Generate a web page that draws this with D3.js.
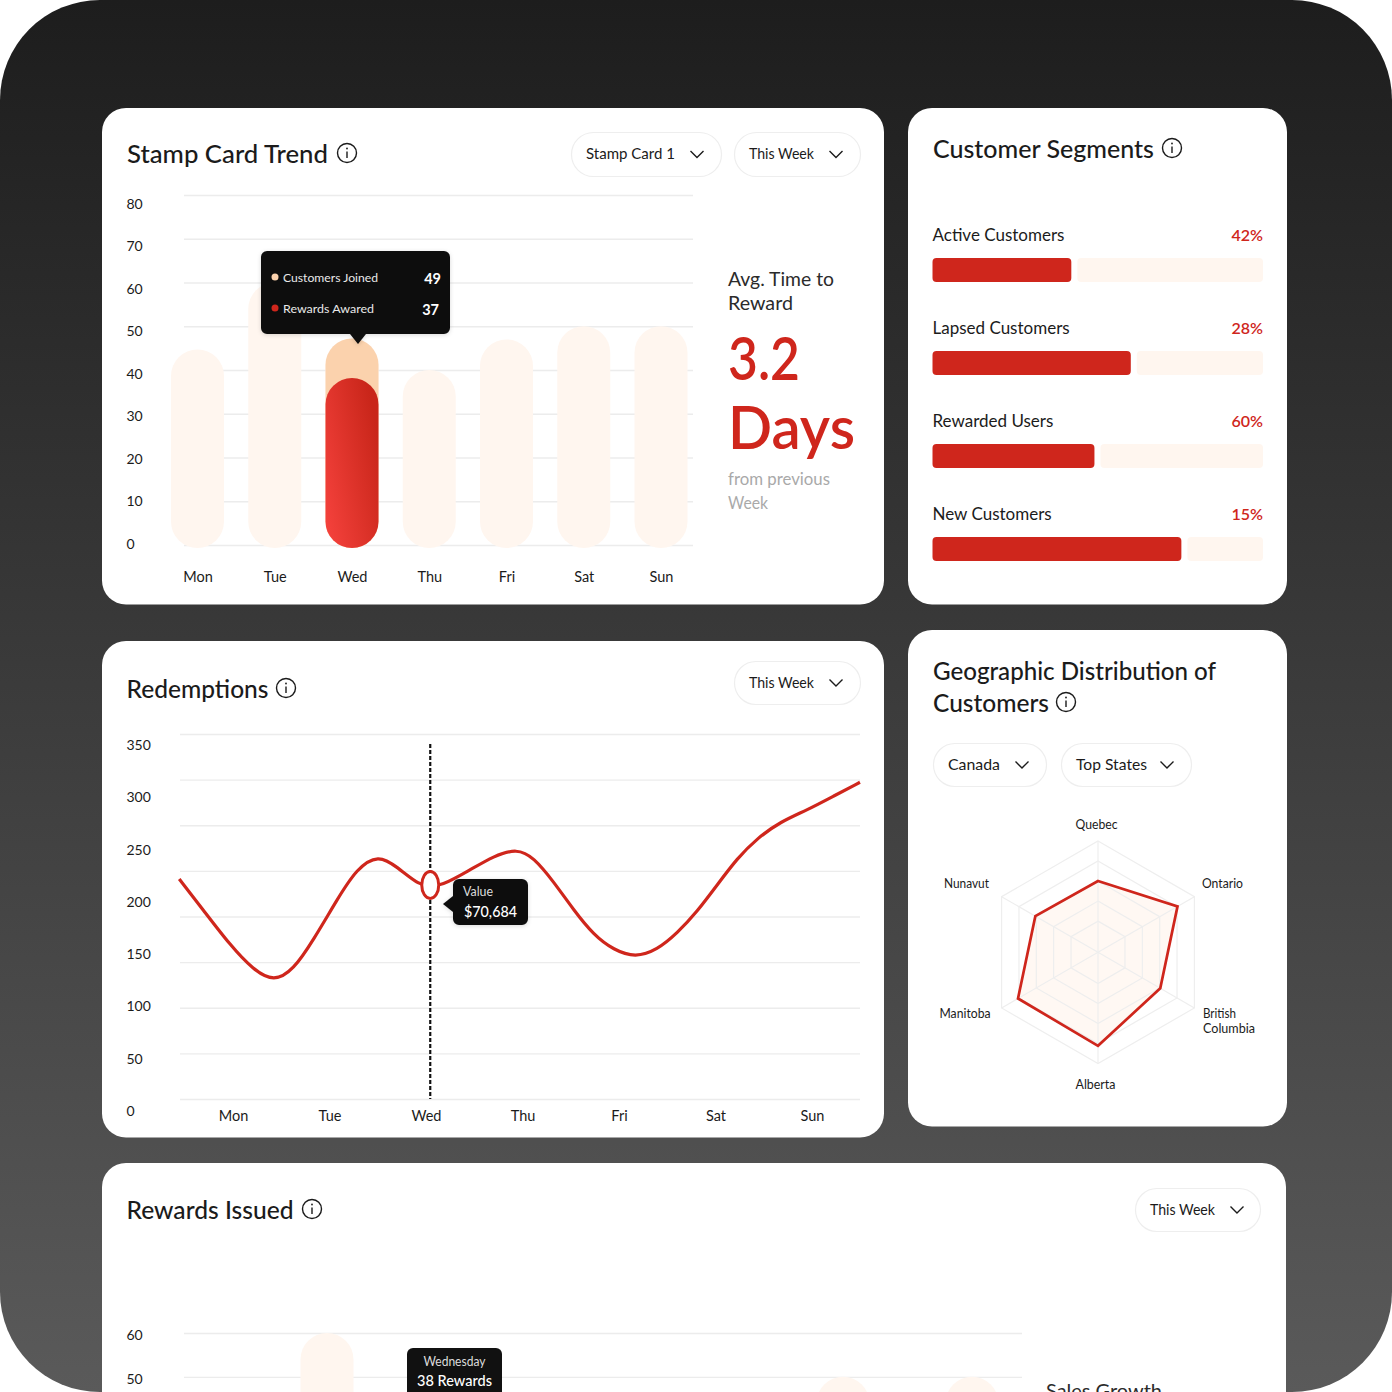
<!DOCTYPE html>
<html><head><meta charset="utf-8">
<script src="https://cdn.jsdelivr.net/npm/d3@7/dist/d3.min.js"></script>
<style>html,body{margin:0;background:#fff}svg{display:block}text{font-family:Lato,"Noto Sans",sans-serif}
.domain{display:none}</style></head><body><svg id="c" width="1392" height="1392"></svg>
<script>
const days=["Mon","Tue","Wed","Thu","Fri","Sat","Sun"];
const stampTicks=[0,10,20,30,40,50,60,70,80];
const customersJoined=[44.7,60,47.2,40,47,50,50];
const rewardsAwarded=[null,null,38.2,null,null,null,null];
const segmentNames=["Active Customers","Lapsed Customers","Rewarded Users","New Customers"];
const segmentLabels=["42%","28%","60%","15%"];
const segmentShares=[42,60,49,75.3];
const redemptionTicks=[0,50,100,150,200,250,300,350];
const redemptionDay=[-0.557,-0.308,-0.031,0.211,0.425,0.626,0.833,1.076,1.283,1.507,1.698,1.94,2.044,2.147,2.458,2.7,2.943,3.115,3.323,3.53,3.738,3.945,4.17,4.395,4.603,4.81,5.017,5.225,5.432,5.674,5.951,6.227,6.497];
const redemptionValue=[241.1,207.1,168.8,141.4,128.5,141.4,174.2,218.1,252.8,268,254.6,233.4,234.5,232.7,251,266.3,274.5,264.9,238.1,207.1,179.7,163.3,155,163.3,181.6,205.3,234.5,263.8,285.7,303.9,316.7,332.1,347.1];
const regions=["Quebec","Ontario","British Columbia","Alberta","Manitoba","Nunavut"];
const regionValues=[64,82.5,64.6,84,83,65];
const radarLevels=[28,46,64,82,100];
const rewardsIssued=[40,60,38,40,45,50,50];

const RED="#cf261c",TRACK="#fff6ef",PEACH="#fbd2ad",INK="#1b1b1b",DARK="#111111",GRID="#ececec";
const svg=d3.select("#c");
const defs=svg.append("defs");
const bgG=defs.append("linearGradient").attr("id","bg").attr("x1",0).attr("y1",0).attr("x2",0).attr("y2",1);
bgG.append("stop").attr("offset",0).attr("stop-color","#1d1d1d");
bgG.append("stop").attr("offset",1).attr("stop-color","#5a5a5a");
const rg=defs.append("linearGradient").attr("id","redBar").attr("x1",0).attr("y1",1).attr("x2",1).attr("y2",0.35);
rg.append("stop").attr("offset",0).attr("stop-color","#f7433e");
rg.append("stop").attr("offset",1).attr("stop-color","#c9261a");
const sh=defs.append("filter").attr("id","sh").attr("x","-20%").attr("y","-20%").attr("width","140%").attr("height","140%");
sh.append("feDropShadow").attr("dx",0).attr("dy",1).attr("stdDeviation",2).attr("flood-opacity",.15);
defs.append("clipPath").attr("id","outer").append("rect").attr("width",1392).attr("height",1392).attr("rx",100);

const root=svg.append("g").attr("clip-path","url(#outer)");
root.append("rect").attr("width",1392).attr("height",1392).attr("fill","url(#bg)");

function card(x,y,w,h){root.append("rect").attr("x",x).attr("y",y).attr("width",w).attr("height",h).attr("rx",24).attr("fill","#fff");}
function txt(x,y,s,size,o={}){const t=root.append("text").attr("x",x).attr("y",y).attr("dominant-baseline","central")
  .attr("font-size",size).attr("fill",o.fill||INK).attr("font-weight",o.weight||400).attr("text-anchor",o.anchor||"start").text(s);
  if(o.w)t.attr("textLength",o.w).attr("lengthAdjust","spacingAndGlyphs");return t;}
function info(cx,cy){const g=root.append("g").attr("transform",`translate(${cx},${cy})`).attr("fill","none").attr("stroke",INK).attr("stroke-width",1.4);
  g.append("circle").attr("r",9.5);
  g.append("path").attr("d","M0,-1.5V5");
  g.append("circle").attr("cy",-4.5).attr("r",.9).attr("fill",INK).attr("stroke","none");}
function pill(x,y,w,h,label,chev,tw){root.append("rect").attr("x",x+.5).attr("y",y+.5).attr("width",w).attr("height",h).attr("rx",h/2).attr("fill","#fff").attr("stroke","#eeeeee").attr("stroke-width",1.2);
  txt(x+15,y+h/2-1,label,15,{w:tw});
  root.append("path").attr("d",`M${chev-6.5},${y+h/2-3}L${chev},${y+h/2+3.5}L${chev+6.5},${y+h/2-3}`).attr("fill","none").attr("stroke",INK).attr("stroke-width",1.4);}
function grid(scale,x0,x1,ticks){const g=root.append("g").attr("transform",`translate(${x0},0)`)
  .call(d3.axisLeft(scale).tickValues(ticks).tickSize(-(x1-x0)).tickFormat(""));
  g.selectAll("line").attr("stroke",GRID).attr("stroke-width",1.4);}
function yLabels(scale,x,ticks,size){const g=root.append("g").attr("transform",`translate(${x},0)`)
  .call(d3.axisLeft(scale).tickValues(ticks).tickSize(0).tickPadding(0).tickFormat(d3.format("d")));
  g.selectAll("text").attr("text-anchor","start").attr("font-size",size).attr("fill",INK).attr("dy",null).attr("dominant-baseline","central");}
function xLabels(scale,y,size){const g=root.append("g").attr("transform",`translate(0,${y})`)
  .call(d3.axisBottom(scale).tickSize(0).tickPadding(0));
  g.selectAll("text").attr("font-size",size).attr("fill",INK).attr("dy",null).attr("dominant-baseline","central");}
function bars(x,y,vals,w,over,fill){root.append("g").selectAll("rect").data(days.map((d,i)=>({d,v:vals[i]})).filter(e=>e.v!=null)).join("rect")
  .attr("x",e=>x(e.d)-w/2).attr("width",w).attr("y",e=>y(e.v)).attr("height",e=>y(0)+over-y(e.v)).attr("rx",w/2).attr("fill",fill);}

// Stamp Card Trend
card(102,108,782,496.5);
txt(127,152.5,"Stamp Card Trend",25.5,{weight:500,w:201}); info(347,153);
pill(571,132,150,44,"Stamp Card 1",697,89);
pill(734,132,126,44,"This Week",836,65);
const sy=d3.scaleLinear().domain([0,80]).range([545,195]);
const syL=d3.scaleLinear().domain([0,80]).range([542.5,203]);
const sx=d3.scalePoint().domain(days).range([197.5,661]);
grid(sy,184,693,stampTicks);
yLabels(syL,126.5,stampTicks,14);
bars(sx,sy,customersJoined,53,3,TRACK);
bars(sx,sy,customersJoined.map((v,i)=>rewardsAwarded[i]!=null?v:null),53,3,PEACH);
bars(sx,sy,rewardsAwarded,53,3,"url(#redBar)");
xLabels(sx,576,14.5);
root.append("path").attr("d","M261,257a6,6 0 0 1 6,-6H444a6,6 0 0 1 6,6V328a6,6 0 0 1 -6,6H366L358,344L350,334H267a6,6 0 0 1 -6,-6Z").attr("fill",DARK).attr("filter","url(#sh)");
root.append("circle").attr("cx",275).attr("cy",277).attr("r",3.5).attr("fill",PEACH);
root.append("circle").attr("cx",275).attr("cy",308).attr("r",3.5).attr("fill",RED);
txt(283,277,"Customers Joined",12.3,{fill:"#e9e9e9",w:95});
txt(283,308,"Rewards Awared",12.3,{fill:"#e9e9e9",w:91});
txt(441,278,"49",14.5,{fill:"#fff",anchor:"end",weight:700});
txt(439,309,"37",14.5,{fill:"#fff",anchor:"end",weight:700});
txt(728,278,"Avg. Time to",20,{fill:"#2b2b2b",w:106});
txt(728,301.5,"Reward",20,{fill:"#2b2b2b",w:65});
txt(728,357,"3.2",60,{fill:RED,weight:600,w:72});
txt(728,426,"Days",60,{fill:RED,weight:600,w:127});
txt(728,478,"from previous",18,{fill:"#a9a9a9",w:102});
txt(728,502,"Week",18,{fill:"#a9a9a9",w:40});

// Customer Segments
card(908,108,379,496.5);
txt(933,147.5,"Customer Segments",25.5,{weight:500,w:221}); info(1172,148);
const segX=d3.scaleLinear().domain([0,100]).range([932.5,1263]);
const segY=d3.scalePoint().domain(segmentNames).range([258,537]);
segmentNames.forEach((n,i)=>{const y=segY(n);
  txt(932.5,y-23.5,n,17);
  txt(1263,y-23.5,segmentLabels[i],16,{fill:RED,anchor:"end",weight:600});
  root.append("rect").attr("x",segX(segmentShares[i])+6).attr("y",y).attr("width",segX(100)-segX(segmentShares[i])-6).attr("height",24).attr("rx",4).attr("fill",TRACK);
  root.append("rect").attr("x",segX(0)).attr("y",y).attr("width",segX(segmentShares[i])-segX(0)).attr("height",24).attr("rx",4).attr("fill",RED);
});

// Redemptions
card(102,641,782,496.5);
txt(126.5,687.5,"Redemptions",25.5,{weight:500,w:142}); info(286,688);
pill(734,661,126,43,"This Week",836,65);
const ry=d3.scaleLinear().domain([0,400]).range([1099,734]);
const ryL=d3.scaleLinear().domain([0,350]).range([1110,744]);
const rxL=d3.scalePoint().domain(days).range([233,812]);
const rx=d3.scaleLinear().domain([0,6]).range([233,812]);
grid(ry,180,860,d3.range(0,401,50));
yLabels(ryL,126.5,redemptionTicks,14);
xLabels(rxL,1115,14.5);
const WED=2.044;
root.append("line").attr("x1",rx(WED)).attr("x2",rx(WED)).attr("y1",744).attr("y2",ry(0)).attr("stroke","#111").attr("stroke-width",2.2).attr("stroke-dasharray","4 2");
root.append("path").datum(redemptionDay.map((d,i)=>[d,redemptionValue[i]]))
  .attr("d",d3.line().x(d=>rx(d[0])).y(d=>ry(d[1])).curve(d3.curveBasis))
  .attr("fill","none").attr("stroke",RED).attr("stroke-width",3.2);
root.append("ellipse").attr("cx",rx(WED)).attr("cy",ry(234.5)).attr("rx",8.5).attr("ry",13.5).attr("fill","#fff").attr("stroke",RED).attr("stroke-width",3);
root.append("path").attr("d","M459,879H522a6,6 0 0 1 6,6V919a6,6 0 0 1 -6,6H459a6,6 0 0 1 -6,-6V912L443,904L453,896V885a6,6 0 0 1 6,-6Z").attr("fill",DARK).attr("filter","url(#sh)");
txt(463,891,"Value",12.5,{fill:"#dcdcdc",w:30});
txt(464,910.5,"$70,684",15,{fill:"#fff",weight:500,w:53});

// Geographic distribution
card(908,630,379,496.5);
txt(933,669.5,"Geographic Distribution of",25.5,{weight:500,w:283});
txt(933,701.5,"Customers",25.5,{weight:500,w:116}); info(1066,702);
pill(933,743,113,43,"Canada",1022,52);
pill(1061,743,130,43,"Top States",1167,71);
const cx=1098,cy=952.3;
const rr=d3.scaleLinear().domain([0,100]).range([0,111.3]);
const ang=regions.map((_,i)=>i*Math.PI/3);
const radarLine=d3.lineRadial().angle((d,i)=>ang[i]).radius(d=>rr(d)).curve(d3.curveLinearClosed);
const radar=root.append("g").attr("transform",`translate(${cx},${cy})`);
radar.append("path").attr("d",radarLine(regionValues)).attr("fill","#fff8f3");
radarLevels.forEach(l=>radar.append("path").attr("d",radarLine(regions.map(()=>l))).attr("fill","none").attr("stroke","#eeeeee").attr("stroke-width",1.2));
regions.forEach((_,i)=>radar.append("line").attr("x2",rr(100)*Math.sin(ang[i])).attr("y2",-rr(100)*Math.cos(ang[i])).attr("stroke","#eeeeee").attr("stroke-width",1.2));
radar.append("path").attr("d",radarLine(regionValues)).attr("fill","none").attr("stroke",RED).attr("stroke-width",2.7).attr("stroke-linejoin","miter");
txt(1075.5,824.5,"Quebec",12.5,{w:42});
txt(1202,883,"Ontario",12.5,{w:41});
txt(1203,1013,"British",12.5,{w:33});
txt(1203,1028.5,"Columbia",12.5,{w:52});
txt(1075.5,1084.5,"Alberta",12.5,{w:40});
txt(939.5,1013,"Manitoba",12.5,{w:51});
txt(944,883,"Nunavut",12.5,{w:45});

// Rewards Issued
card(102,1163,1184,300);
txt(126.5,1208.5,"Rewards Issued",25.5,{weight:500,w:167}); info(312,1209);
pill(1135,1188,125,43,"This Week",1237,65);
const iy=d3.scaleLinear().domain([0,60]).range([1596,1333]);
const iyL=d3.scaleLinear().domain([0,60]).range([1597,1334]);
const ix=d3.scalePoint().domain(days).range([198,972]);
grid(iy,184,1022,[50,60]);
yLabels(iyL,126.5,[50,60],14);
bars(ix,iy,rewardsIssued,53,3,TRACK);
root.append("rect").attr("x",407).attr("y",1348).attr("width",95).attr("height",60).attr("rx",6).attr("fill",DARK);
txt(454.5,1361,"Wednesday",12.5,{fill:"#dcdcdc",anchor:"middle",w:62});
txt(454.5,1380,"38 Rewards",15,{fill:"#fff",anchor:"middle",weight:500,w:75});
txt(1046,1390,"Sales Growth",19,{fill:"#2b2b2b",w:116});
</script></body></html>
